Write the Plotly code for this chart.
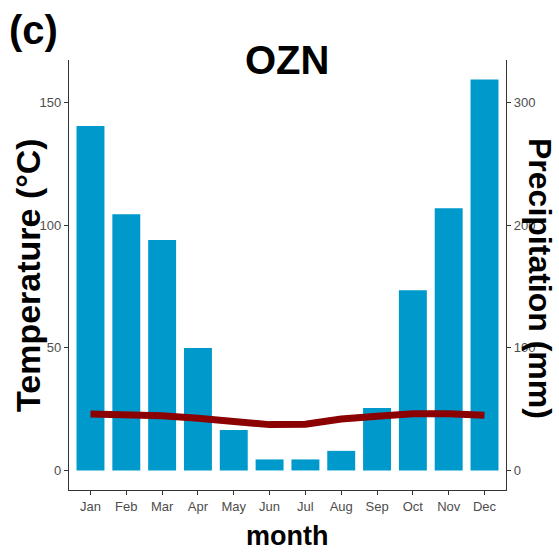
import plotly.graph_objects as go

months = ["Jan", "Feb", "Mar", "Apr", "May", "Jun",
          "Jul", "Aug", "Sep", "Oct", "Nov", "Dec"]
precip_mm = [281, 209, 188, 100, 33, 9, 9, 16, 51, 147, 214, 319]
temp_c = [23.0, 22.9, 22.3, 21.3, 20.0, 18.7, 18.9, 21.0, 22.1, 23.1, 23.1, 22.5]

temp_ticks = [0, 50, 100, 150]
precip_ticks = [0, 100, 200, 300]

BAR_COLOR = "#0099CC"
LINE_COLOR = "#8B0000"
TICK_FONT = dict(family="Liberation Sans, Arial, sans-serif", size=13, color="#4D4D4D")
TITLE_FONT = "Liberation Sans, Arial, sans-serif"

# plot area in pixels (used to place the free-standing labels)
PW, PH = 437, 430

fig = go.Figure()
# bars on the precipitation axis (drawn first / underneath)
fig.add_trace(
    go.Bar(x=months, y=precip_mm, yaxis="y", marker_color=BAR_COLOR,
           marker_line_width=0, width=0.78, name="Precipitation")
)
# temperature line on the overlaid axis so it sits on top of the bars
fig.add_trace(
    go.Scatter(x=months, y=temp_c, mode="lines", yaxis="y2",
               line=dict(color=LINE_COLOR, width=7), name="Temperature")
)

# ggplot-style 5% expansion; precipitation axis is 2x temperature axis
top = max(precip_mm) / 2
pad = 0.05 * top
axis_common = dict(
    showline=True, linecolor="#333333", linewidth=1.2, ticks="outside",
    ticklen=4, tickcolor="#333333", tickfont=TICK_FONT, showgrid=False,
    zeroline=False, automargin=False,
)

fig.update_layout(
    width=559, height=554,
    margin=dict(l=69, r=53, t=60, b=64),
    plot_bgcolor="white", paper_bgcolor="white",
    showlegend=False,
    xaxis=dict(range=[-0.6, 11.6], type="category", **axis_common),
    yaxis=dict(range=[-2 * pad, 2 * (top + pad)], tickvals=precip_ticks,
               side="right", **axis_common),
    yaxis2=dict(range=[-pad, top + pad], tickvals=temp_ticks,
                overlaying="y", side="left", **axis_common),
)

def label(text, x_px, y_px, size, angle=0):
    # x_px / y_px are offsets from the plot area's bottom-left corner
    fig.add_annotation(
        text=text, xref="paper", yref="paper", x=x_px / PW, y=y_px / PH,
        xanchor="center", yanchor="middle", textangle=angle, showarrow=False,
        font=dict(family=TITLE_FONT, size=size, color="black", weight="bold"),
    )

label("(c)", 33 - 69, 490 - 30, 40)
label("OZN", 287 - 69, 490 - 60, 40)
label("Temperature (°C)", 28 - 69, 490 - 275, 34, -90)
label("Precipitation (mm)", 540 - 69, 490 - 278, 32, 90)
label("month", 287 - 69, 490 - 536, 27)

# drop the page's default body margin so the figure fills the window
fig.write_html(
    "out.html",
    config={"displayModeBar": False},
    post_script="document.body.style.margin = '0';",
)
